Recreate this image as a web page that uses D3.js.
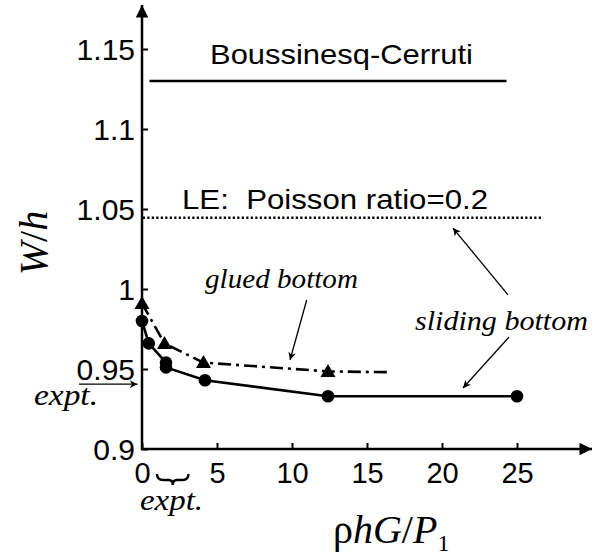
<!DOCTYPE html>
<html>
<head>
<meta charset="utf-8">
<script src="https://cdn.jsdelivr.net/npm/d3@7"></script>
<style>
  body { margin: 0; background: #fff; }
  svg { display: block; }
  .tick text { font-family: "Liberation Sans", Arial, sans-serif; fill: #000; }
</style>
</head>
<body>
<div id="chart"></div>
<script>
const width = 608;
const height = 559;

// data
const xTicks = [0, 5, 10, 15, 20, 25];
const yTicks = [0.9, 0.95, 1, 1.05, 1.1, 1.15];

const slidingX = [0, 0.45, 1.6, 1.6, 4.2, 12.4, 25];
const slidingY = [0.98, 0.966, 0.954, 0.951, 0.943, 0.933, 0.933];

const gluedX = [0, 1.5, 4.1, 12.4, 16.5];
const gluedY = [0.991, 0.966, 0.954, 0.9485, 0.948];
const gluedMarked = [true, true, true, true, false];

const boussinesqX = [0.5, 24.3];
const boussinesqY = [1.13, 1.13];

const leX = [0.05, 26.7];
const leY = [1.0445, 1.0445];

const exptY = 0.9405;

const x = d3.scaleLinear().domain([0, 25]).range([142, 517]);
const y = d3.scaleLinear().domain([0.9, 1.15]).range([449, 49]);

const svg = d3.select("#chart")
  .append("svg")
  .attr("width", width)
  .attr("height", height);

const defs = svg.append("defs");
defs.append("marker")
  .attr("id", "bigArrow")
  .attr("viewBox", "0 0 10 10")
  .attr("refX", 10).attr("refY", 5)
  .attr("markerWidth", 6).attr("markerHeight", 5)
  .attr("markerUnits", "strokeWidth")
  .attr("orient", "auto")
  .append("path").attr("d", "M0,0 L10,5 L0,10 Z").attr("fill", "#000");
defs.append("marker")
  .attr("id", "thinArrow")
  .attr("viewBox", "0 0 10 10")
  .attr("refX", 10).attr("refY", 5)
  .attr("markerWidth", 9).attr("markerHeight", 6)
  .attr("markerUnits", "strokeWidth")
  .attr("orient", "auto")
  .append("path").attr("d", "M0,0 L10,5 L0,10 L3,5 Z").attr("fill", "#000");

// axes
svg.append("g")
  .attr("transform", `translate(0, ${y(0.9)})`)
  .call(d3.axisBottom(x).tickValues(xTicks).tickSizeInner(-6).tickSizeOuter(0).tickPadding(13))
  .call(g => g.select(".domain").remove())
  .call(g => g.selectAll(".tick line").attr("stroke-width", 2))
  .call(g => g.selectAll(".tick text").attr("font-size", 29));

svg.append("g")
  .attr("transform", `translate(${x(0)}, 0)`)
  .call(d3.axisLeft(y).tickValues(yTicks).tickFormat(d3.format("")).tickSizeInner(-6).tickSizeOuter(0).tickPadding(7))
  .call(g => g.select(".domain").remove())
  .call(g => g.selectAll(".tick line").attr("stroke-width", 2))
  .call(g => g.selectAll(".tick text").attr("font-size", 30).attr("dy", "0.36em"));

svg.append("line")
  .attr("x1", x(0) - 1).attr("y1", y(0.9))
  .attr("x2", x(30)).attr("y2", y(0.9))
  .attr("stroke", "#000").attr("stroke-width", 2.5)
  .attr("marker-end", "url(#bigArrow)");
svg.append("line")
  .attr("x1", x(0)).attr("y1", y(0.9) + 1)
  .attr("x2", x(0)).attr("y2", y(1.1775))
  .attr("stroke", "#000").attr("stroke-width", 2.5)
  .attr("marker-end", "url(#bigArrow)");

const line = d3.line().x(d => x(d[0])).y(d => y(d[1]));

// reference lines
svg.append("path")
  .attr("d", line(d3.zip(boussinesqX, boussinesqY)))
  .attr("fill", "none").attr("stroke", "#000").attr("stroke-width", 2.5);
svg.append("path")
  .attr("d", line(d3.zip(leX, leY)))
  .attr("fill", "none").attr("stroke", "#000").attr("stroke-width", 2.5)
  .attr("stroke-dasharray", "2.2,2.3");

// glued bottom
svg.append("path")
  .attr("d", line(d3.zip(gluedX, gluedY)))
  .attr("fill", "none").attr("stroke", "#000").attr("stroke-width", 2.6)
  .attr("stroke-dasharray", "13,5,3,5");
svg.selectAll(".tri")
  .data(d3.zip(gluedX, gluedY).filter((d, i) => gluedMarked[i]))
  .enter()
  .append("path")
  .attr("class", "tri")
  .attr("transform", d => `translate(${x(d[0])}, ${y(d[1])})`)
  .attr("d", "M0,-7.5 L7.5,5.5 L-7.5,5.5 Z")
  .attr("fill", "#000");

// sliding bottom
svg.append("path")
  .attr("d", line(d3.zip(slidingX, slidingY)))
  .attr("fill", "none").attr("stroke", "#000").attr("stroke-width", 2.6);
svg.selectAll(".dot")
  .data(d3.zip(slidingX, slidingY))
  .enter()
  .append("circle")
  .attr("class", "dot")
  .attr("cx", d => x(d[0]))
  .attr("cy", d => y(d[1]))
  .attr("r", 6.3)
  .attr("fill", "#000");

// annotation arrows
const arrows = [
  [[10.98, 0.9931], [9.87, 0.9556]],
  [[24.47, 0.970], [21.4, 0.9381]],
  [[24.4, 0.9963], [20.73, 1.0381]],
  [[-4.2, exptY], [-0.3, exptY]]
];
svg.selectAll(".arrow")
  .data(arrows)
  .enter()
  .append("line")
  .attr("class", "arrow")
  .attr("x1", d => x(d[0][0])).attr("y1", d => y(d[0][1]))
  .attr("x2", d => x(d[1][0])).attr("y2", d => y(d[1][1]))
  .attr("stroke", "#000").attr("stroke-width", 1.3)
  .attr("marker-end", "url(#thinArrow)");

// brace under the axis marking the experimental range
const bx0 = x(1), bx1 = x(3.1), by = 474;
const bm = (bx0 + bx1) / 2;
svg.append("path")
  .attr("d", `M${bx0},${by} Q${bx0},${by + 6} ${bx0 + 6},${by + 6} L${bm - 4},${by + 6} Q${bm},${by + 6} ${bm},${by + 11} Q${bm},${by + 6} ${bm + 4},${by + 6} L${bx1 - 6},${by + 6} Q${bx1},${by + 6} ${bx1},${by}`)
  .attr("fill", "none").attr("stroke", "#000").attr("stroke-width", 2.4);

// text
const sans = "Liberation Sans, Arial, sans-serif";
const serif = "Liberation Serif, Times New Roman, serif";

svg.append("text")
  .attr("x", 210).attr("y", 64)
  .attr("font-family", sans).attr("font-size", 28)
  .attr("textLength", 263).attr("lengthAdjust", "spacingAndGlyphs")
  .text("Boussinesq-Cerruti");

svg.append("text")
  .attr("x", 182).attr("y", 209)
  .attr("font-family", sans).attr("font-size", 28)
  .attr("textLength", 306).attr("lengthAdjust", "spacingAndGlyphs")
  .style("white-space", "pre")
  .text("LE:  Poisson ratio=0.2");

svg.append("text")
  .attr("x", 205).attr("y", 288)
  .attr("font-family", serif).attr("font-style", "italic").attr("font-size", 27)
  .attr("textLength", 153).attr("lengthAdjust", "spacingAndGlyphs")
  .text("glued bottom");

svg.append("text")
  .attr("x", 415).attr("y", 330)
  .attr("font-family", serif).attr("font-style", "italic").attr("font-size", 27)
  .attr("textLength", 173).attr("lengthAdjust", "spacingAndGlyphs")
  .text("sliding bottom");

svg.append("text")
  .attr("x", 34).attr("y", 405)
  .attr("font-family", serif).attr("font-style", "italic").attr("font-size", 29)
  .attr("textLength", 64).attr("lengthAdjust", "spacingAndGlyphs")
  .text("expt.");

svg.append("text")
  .attr("x", 140).attr("y", 510)
  .attr("font-family", serif).attr("font-style", "italic").attr("font-size", 29)
  .attr("textLength", 63).attr("lengthAdjust", "spacingAndGlyphs")
  .text("expt.");

// axis titles
const xt = svg.append("text")
  .attr("x", 333).attr("y", 543)
  .attr("font-family", serif).attr("font-size", 40);
xt.append("tspan").text("ρ");
xt.append("tspan").attr("font-style", "italic").text("hG");
xt.append("tspan").text("/");
xt.append("tspan").attr("font-style", "italic").text("P");
xt.append("tspan").attr("font-size", 24).attr("dy", 8).text("1");

const yt = svg.append("text")
  .attr("transform", "translate(47, 243) rotate(-90)")
  .attr("text-anchor", "middle")
  .attr("font-family", serif).attr("font-size", 40);
yt.append("tspan").attr("font-style", "italic").text("W");
yt.append("tspan").text("/");
yt.append("tspan").attr("font-style", "italic").text("h");
</script>
</body>
</html>
